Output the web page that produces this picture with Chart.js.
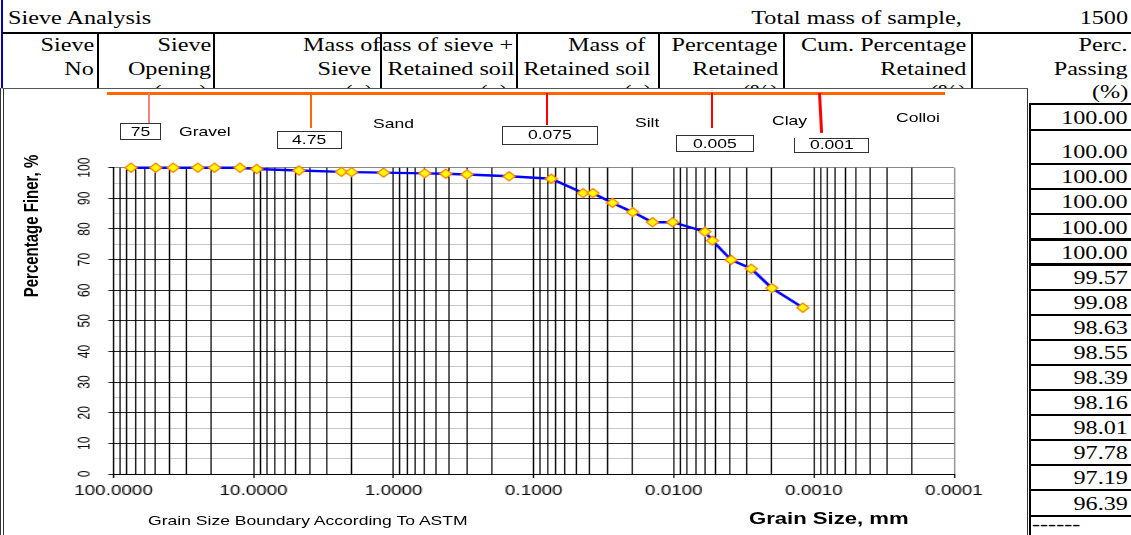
<!DOCTYPE html>
<html lang="en">
<head>
<meta charset="utf-8">
<title>Sieve Analysis – Grain Size Distribution</title>
<script src="https://cdn.jsdelivr.net/npm/chart.js@4.4.1/dist/chart.umd.min.js"></script>
<style>
    html, body { margin: 0; padding: 0; background: #fff; }
    body {
        position: relative; width: 1131px; height: 535px; overflow: hidden;
        font-family: "Liberation Serif", "Times New Roman", serif; color: #000;
    }
    .rule { position: absolute; }

    /* spreadsheet text: the screenshot is stretched sideways, so the glyphs are too */
    .cell { position: absolute; white-space: nowrap; font-size: 19.5px; line-height: 24px; height: 24px; }
    .cell span { display: inline-block; transform: scaleX(1.24); transform-origin: right center; }
    .cell.left span { transform-origin: left center; }
    .clip { position: absolute; overflow: hidden; white-space: nowrap; font-size: 19.5px;
            line-height: 24px; height: 24px; text-align: right; }
    .clip span { display: inline-block; transform: scaleX(1.24); transform-origin: right center; }

    #chart-frame {
        position: absolute; left: 0; top: 88px; width: 1028px; height: 460px;
        box-sizing: border-box; background: #fff; z-index: 1;
        border-left: 4px double #333; border-top: 1px solid #555; border-right: 1px solid #333;
    }
    #canvas-wrap { position: absolute; left: 5px; top: 90px; transform-origin: 0 0; z-index: 2; }
    #overlay {
        position: absolute; left: 0; top: 0; width: 1131px; height: 535px; z-index: 3;
        font-family: "Liberation Sans", Arial, sans-serif; color: #000;
    }
    .note { position: absolute; white-space: nowrap; font-size: 13.5px; line-height: 16px; }
    .note span { display: inline-block; transform: scaleX(1.3); transform-origin: left center; }
    .box {
        position: absolute; box-sizing: border-box; background: #fff;
        border: 1.3px solid #333; display: flex; align-items: center; justify-content: center;
        font-size: 13.5px; line-height: 16px; white-space: nowrap;
    }
    .box span { display: inline-block; transform: scaleX(1.3); }
    #y-title {
        position: absolute; left: 31px; top: 226px; white-space: nowrap;
        font-weight: bold; font-size: 15px; line-height: 18px;
        transform: translate(-50%, -50%) scaleX(1.3) rotate(-90deg);
    }
</style>
</head>
<body>
<div id="sheet"></div>
<div id="chart-frame"></div>
<div id="canvas-wrap"><canvas id="gsd"></canvas></div>
<div id="overlay">
    <div id="y-title">Percentage Finer, %</div>
</div>

<script>
// ─── Data ─────────────────────────────────────────────────────────────────────
const sieveOpenings  = [75, 50, 37.5, 25, 19, 12.5, 9.5, 4.75, 2.36, 2.0, 1.18, 0.6, 0.425, 0.3, 0.15, 0.075];
const sievePassing   = [100, 100, 100, 100, 100, 100, 99.57, 99.08, 98.63, 98.55, 98.39, 98.16, 98.01, 97.78, 97.19, 96.39];
const hydroDiameters = [0.0445, 0.0378, 0.0274, 0.0197, 0.0142, 0.0102, 0.0060, 0.0053, 0.0039, 0.0028, 0.0020, 0.0012];
const hydroPassing   = [91.7, 91.7, 88.5, 85.5, 82.2, 82.2, 79.1, 76.2, 69.9, 67.0, 60.7, 54.3];

const xDecades    = [100, 10, 1, 0.1, 0.01, 0.001, 0.0001];
const xTickLabels = ['100.0000', '10.0000', '1.0000', '0.1000', '0.0100', '0.0010', '0.0001'];
const yTickLabels = ['0', '10', '20', '30', '40', '50', '60', '70', '80', '90', '100'];

const boundaryLabels = ['75', '4.75', '0.075', '0.005', '0.001'];
const soilLabels     = ['Gravel', 'Sand', 'Silt', 'Clay', 'Colloi'];

// ─── Layout (page px) ─────────────────────────────────────────────────────────
const SC = 1.3;                       // sideways stretch of the chart object
const CANVAS = { left: 5, top: 90, width: 1020, height: 445 };
const PLOT = { left: 113.5, right: 954, top: 167.7, bottom: 474 };
const Y_AXIS_W = 40;
const X_AXIS_H = 30;

const sheet = document.getElementById('sheet');
const overlay = document.getElementById('overlay');

function addRule(parent, x, y, w, h, color) {
    const el = document.createElement('div');
    el.className = 'rule';
    Object.assign(el.style, { left: x + 'px', top: y + 'px', width: w + 'px', height: h + 'px', background: color });
    parent.appendChild(el);
    return el;
}

// Times text, positioned by its baseline
function addCell(text, x, baseline, align) {
    const el = document.createElement('div');
    el.className = 'cell' + (align === 'l' ? ' left' : '');
    el.style.top = (baseline - 18.7) + 'px';
    if (align === 'l') el.style.left = x + 'px';
    else el.style.right = (1131 - x) + 'px';
    const s = document.createElement('span');
    s.textContent = text;
    el.appendChild(s);
    sheet.appendChild(el);
}

// ─── Spreadsheet behind the chart ─────────────────────────────────────────────
addRule(sheet, 1, 0, 2, 88, '#0000c0');
addRule(sheet, 2, 31.5, 1129, 2.5, '#000');
[98, 214, 381, 517, 659, 784, 972].forEach(x => addRule(sheet, x - 1, 33, 2, 56, '#000'));

addCell('Sieve Analysis', 8, 25, 'l');
addCell('Total mass of sample,', 962, 25, 'r');
addCell('1500', 1128, 25, 'r');

const headerCells = [
    ['Sieve', 94, 52], ['No', 94, 76],
    ['Sieve', 211, 52], ['Opening', 211, 76], ['(mm)', 207, 98.5],
    ['Mass of', 380, 52], ['Sieve', 371, 76], ['(g)', 373, 98.5],
    ['Retained soil', 514, 76], ['(g)', 508, 98.5],
    ['Mass of', 645, 52], ['Retained soil', 650, 76], ['(g)', 652, 98.5],
    ['Percentage', 778, 52], ['Retained', 778, 76], ['(%)', 778, 98.5],
    ['Cum. Percentage', 966, 52], ['Retained', 966, 76], ['(%)', 966, 98.5],
    ['Perc.', 1128, 52], ['Passing', 1128, 76], ['(%)', 1128, 98.5]
];
headerCells.forEach(c => addCell(c[0], c[1], c[2], 'r'));

// overflowing header text, clipped by its cell
const clip = document.createElement('div');
clip.className = 'clip';
Object.assign(clip.style, { left: '383px', top: (52 - 18.7) + 'px', width: '130px' });
clip.innerHTML = '<span>Mass of sieve +</span>';
sheet.appendChild(clip);

// percentage passing column
const rowLines = [104, 130, 164, 189, 214, 239.5, 264.5, 290, 315, 340, 365, 390, 415, 440, 465, 490, 516];
addRule(sheet, 1028.5, 104, 2.5, 431, '#000');
rowLines.forEach(y => addRule(sheet, 1028.5, y - 1.25, 102.5, 2.5, '#000'));
sievePassing.forEach((v, i) => addCell(v.toFixed(2), 1128, rowLines[i + 1] - 5, 'r'));
addCell('------', 1032, 531, 'l');

// ─── Chart annotations (Excel drawing objects) ────────────────────────────────
addRule(overlay, 107, 92, 838, 2.5, '#ff6600');

const boundaryTicks = [[149, 123, '#ff8080', 0], [311, 128, '#ff6600', 0], [547, 125, '#ff0000', 0],
                       [712, 128, '#ff0000', 0], [819, 133, '#ff0000', -3]];
boundaryTicks.forEach(([x, bottom, color, tilt]) => {
    const el = addRule(overlay, x - 1.25, 93, 2.5, bottom - 93, color);
    if (tilt) { el.style.transformOrigin = 'top center'; el.style.transform = `rotate(${tilt}deg)`; }
});

const boundaryBoxes = [[120, 123, 161, 140], [277, 130.5, 342, 148.5], [502, 125.5, 597.5, 144.5],
                       [676, 135, 754, 152], [794, 137.5, 869, 153]];
boundaryBoxes.forEach(([l, t, r, b], i) => {
    const el = document.createElement('div');
    el.className = 'box';
    Object.assign(el.style, { left: l + 'px', top: t + 'px', width: (r - l) + 'px', height: (b - t) + 'px' });
    el.innerHTML = '<span>' + boundaryLabels[i] + '</span>';
    overlay.appendChild(el);
    if (i === boundaryBoxes.length - 1) {
        // this one only has part of its top edge
        el.style.borderTop = 'none';
        addRule(overlay, l + 15, t, r - l - 15, 1.3, '#333');
    }
});

const soilLabelPos = [[178.6, 131.7], [373, 124.3], [634.6, 122.7], [771.7, 120.7], [896, 118.3]];
function addNote(text, x, cy, extra) {
    const el = document.createElement('div');
    el.className = 'note';
    Object.assign(el.style, { left: x + 'px', top: (cy - 7.9) + 'px' }, extra || {});
    el.innerHTML = '<span>' + text + '</span>';
    overlay.appendChild(el);
}
soilLabels.forEach((s, i) => addNote(s, soilLabelPos[i][0], soilLabelPos[i][1]));
addNote('Grain Size Boundary According To ASTM', 148, 521);
addNote('Grain Size, mm', 749, 518.3,
        { fontWeight: 'bold', fontSize: '17px', lineHeight: '20px', top: (518.3 - 9.8) + 'px' });

// ─── Grain size distribution chart ────────────────────────────────────────────
const canvas = document.getElementById('gsd');
const cw = Math.round(CANVAS.width / SC);
canvas.width = cw;
canvas.height = CANVAS.height;
document.getElementById('canvas-wrap').style.transform = `scaleX(${SC})`;

const padLeft = (PLOT.left - CANVAS.left) / SC - Y_AXIS_W;
const padRight = cw - (PLOT.right - CANVAS.left) / SC;
const padTop = PLOT.top - CANVAS.top;
const padBottom = CANVAS.height - (PLOT.bottom - CANVAS.top) - X_AXIS_H;

const points = sieveOpenings.map((d, i) => ({ x: d, y: sievePassing[i] }))
    .concat(hydroDiameters.map((d, i) => ({ x: d, y: hydroPassing[i] })));

// 1..9 lines in every decade, largest size first (axis runs reversed)
function logGridTicks() {
    const ticks = [{ value: xDecades[0], major: true }];
    xDecades.slice(1).forEach(base => {
        for (let k = 9; k >= 1; k--) ticks.push({ value: +(k * base).toPrecision(6), major: k === 1 });
    });
    return ticks;
}

Chart.defaults.font.family = '"Liberation Sans", Arial, sans-serif';
Chart.defaults.color = '#000';

new Chart(canvas, {
    type: 'scatter',
    data: {
        datasets: [{
            data: points,
            showLine: true,
            borderColor: '#0000ff',
            borderWidth: 2.4,
            tension: 0,
            pointStyle: 'rectRot',
            pointRadius: 4.6,
            pointBackgroundColor: '#ffff00',
            pointBorderColor: '#ff8000',
            pointBorderWidth: 1.2,
            clip: false
        }]
    },
    options: {
        responsive: false,
        animation: false,
        events: [],
        layout: { padding: { left: padLeft, right: padRight, top: padTop, bottom: padBottom } },
        plugins: { legend: { display: false }, tooltip: { enabled: false } },
        scales: {
            x: {
                type: 'logarithmic',
                reverse: true,
                min: 0.0001,
                max: 100,
                afterBuildTicks: s => { s.ticks = logGridTicks(); },
                afterFit: s => { s.height = X_AXIS_H; },
                ticks: {
                    autoSkip: false, maxRotation: 0, minRotation: 0, padding: 4,
                    font: { size: 14.5 },
                    callback: value => {
                        const i = xDecades.findIndex(d => Math.abs(value / d - 1) < 1e-6);
                        return i === -1 ? '' : xTickLabels[i];
                    }
                },
                grid: {
                    color: ctx => (ctx.tick && ctx.tick.value <= 0.0001 ? '#888' : '#000'),
                    lineWidth: 1,
                    tickLength: 4,
                    tickColor: ctx => (ctx.tick && ctx.tick.major ? '#000' : 'rgba(0,0,0,0)')
                },
                border: { color: '#000', width: 1 }
            },
            y: {
                min: 0,
                max: 100,
                afterFit: s => { s.width = Y_AXIS_W; },
                ticks: {
                    stepSize: 5, autoSkip: false,
                    minRotation: 90, maxRotation: 90, crossAlign: 'center', padding: 7.5,
                    font: { size: 12 },
                    callback: v => (v % 10 === 0 ? yTickLabels[v / 10] : '')
                },
                grid: {
                    z: -2,
                    color: ctx => {
                        const v = ctx.tick ? ctx.tick.value : 0;
                        if (v === 100) return '#888';
                        return v % 10 === 0 ? '#222' : '#c8c8c8';
                    },
                    lineWidth: 1,
                    tickLength: 4,
                    tickColor: ctx => (ctx.tick && ctx.tick.value % 10 === 0 ? '#222' : 'rgba(0,0,0,0)')
                },
                border: { color: '#000', width: 1 }
            }
        }
    }
});
</script>
</body>
</html>
